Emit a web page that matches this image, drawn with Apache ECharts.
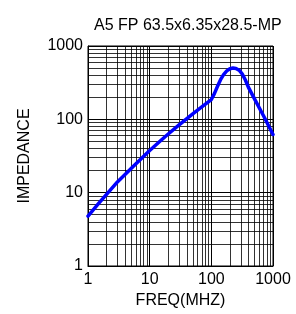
<!DOCTYPE html>
<html>
<head>
<meta charset="utf-8">
<script src="https://cdn.jsdelivr.net/npm/echarts@6/dist/echarts.min.js"></script>
<style>
html,body{margin:0;padding:0;background:#fff;}
#c{width:296px;height:314px;}
</style>
</head>
<body>
<div id="c"></div>
<script>
var titleText = 'A5 FP 63.5x6.35x28.5-MP';
var xName = 'FREQ(MHZ)';
var yName = 'IMPEDANCE';
var freq = [1, 1.5, 2, 3, 5, 7, 10, 15, 20, 30, 50, 70, 100, 112, 126, 141, 158, 178, 200, 224, 251, 282, 316, 355, 398, 501, 708, 1000];
var impedance = [4.8, 7.2, 9.5, 14, 21.4, 28.2, 37.6, 51, 63, 84, 119, 148, 186, 224, 282, 347, 407, 457, 490, 500, 495, 468, 417, 347, 275, 190, 110, 62];
var xTickLabels = ['1', '10', '100', '1000'];
var yTickLabels = ['1', '10', '100', '1000'];
var minorValues = [2,3,4,5,6,7,8,9,20,30,40,50,60,70,80,90,200,300,400,500,600,700,800,900];

var chart = echarts.init(document.getElementById('c'), null, {renderer: 'canvas'});
var font = 'Liberation Sans, Arial, sans-serif';
var gridLines = [];
minorValues.forEach(function (v) { gridLines.push({xAxis: v}); });
minorValues.forEach(function (v) { gridLines.push({yAxis: v}); });

function tickFmt(labels) {
  return function (v) {
    var i = Math.round(Math.log10(v));
    return labels[i] !== undefined ? labels[i] : '';
  };
}

chart.setOption({
  animation: false,
  backgroundColor: '#ffffff',
  title: {
    text: titleText,
    left: 89,
    top: 13,
    textStyle: {fontFamily: font, fontSize: 16, fontWeight: 'normal', color: '#000'}
  },
  grid: {left: 88, right: 23, top: 46, bottom: 47, show: true, borderColor: '#000', borderWidth: 1},
  xAxis: {
    type: 'log', logBase: 10, min: 1, max: 1000,
    name: xName, nameLocation: 'middle', nameGap: 27,
    nameTextStyle: {fontFamily: font, fontSize: 16, color: '#000'},
    axisLine: {show: true, lineStyle: {color: '#000', width: 1}},
    axisTick: {show: false},
    axisLabel: {fontFamily: font, fontSize: 16, color: '#000', margin: 6, formatter: tickFmt(xTickLabels)},
    splitLine: {show: true, lineStyle: {color: '#000', width: 1}}
  },
  yAxis: {
    type: 'log', logBase: 10, min: 1, max: 1000,
    name: yName, nameLocation: 'middle', nameGap: 55, nameRotate: 90,
    nameTextStyle: {fontFamily: font, fontSize: 16, color: '#000'},
    axisLine: {show: true, lineStyle: {color: '#000', width: 1}},
    axisTick: {show: false},
    axisLabel: {fontFamily: font, fontSize: 16, color: '#000', margin: 5, formatter: tickFmt(yTickLabels)},
    splitLine: {show: true, lineStyle: {color: '#000', width: 1}}
  },
  series: [
    {
      type: 'line', data: [], z: 1, silent: true,
      markLine: {
        silent: true, symbol: ['none', 'none'], label: {show: false},
        lineStyle: {color: '#000', width: 1, type: 'solid', opacity: 0.8},
        emphasis: {disabled: true},
        data: gridLines
      }
    },
    {
      type: 'line', z: 5,
      data: freq.map(function (f, i) { return [f, impedance[i]]; }),
      smooth: false, showSymbol: false, symbol: 'none',
      lineStyle: {color: '#0000ff', width: 3.5, join: 'round', cap: 'round'}
    }
  ]
});
</script>
</body>
</html>
